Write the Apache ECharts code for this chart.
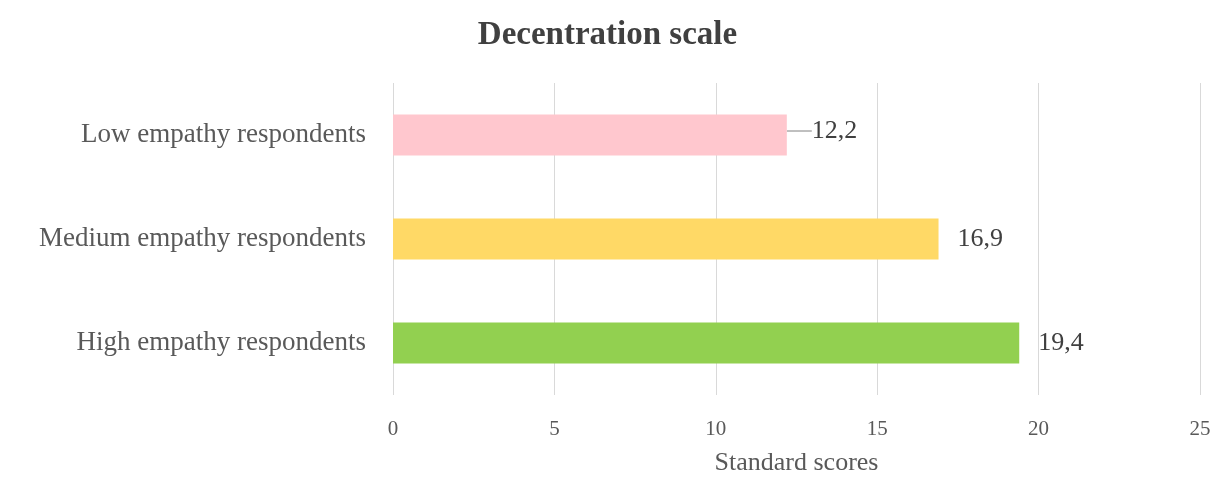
<!DOCTYPE html>
<html><head><meta charset="utf-8">
<script src="https://cdn.jsdelivr.net/npm/echarts@6/dist/echarts.min.js"></script>
<style>html,body{margin:0;padding:0;background:#fff}#c{width:1215px;height:478px}</style>
</head><body><div id="c"></div>
<script>
const categories = ['Low empathy respondents', 'Medium empathy respondents', 'High empathy respondents'];
const values = [12.2, 16.9, 19.4];
const barColors = ['#FFC7CE', '#FFD966', '#92D050'];
const xTicks = [0, 5, 10, 15, 20, 25];

const chart = echarts.init(document.getElementById('c'));
const font = 'Liberation Serif, Times New Roman, serif';
chart.setOption({
  animation: false,
  title: {
    text: 'Decentration scale', left: 'center', top: 14,
    textStyle: {fontFamily: font, fontSize: 33, fontWeight: 'bold', color: '#404040'}
  },
  grid: {left: 393, right: 15, top: 83, bottom: 83, outerBoundsMode: 'none', containLabel: false},
  xAxis: {
    type: 'value', min: xTicks[0], max: xTicks[xTicks.length - 1], interval: 5,
    name: 'Standard scores', nameLocation: 'middle', nameGap: 55,
    nameTextStyle: {fontFamily: font, fontSize: 26, color: '#595959'},
    axisLabel: {fontFamily: font, fontSize: 21, color: '#595959', margin: 24},
    axisLine: {show: false}, axisTick: {show: false},
    splitLine: {lineStyle: {color: '#d9d9d9', width: 1}}
  },
  yAxis: {
    type: 'category', data: categories, inverse: true,
    axisLabel: {fontFamily: font, fontSize: 27, color: '#595959', margin: 27},
    axisLine: {show: false}, axisTick: {show: false}
  },
  series: [{
    type: 'bar', barWidth: 41,
    data: values.map((v, i) => ({
      value: v,
      itemStyle: {color: barColors[i]},
      labelLine: {show: i === 0, length2: 0, lineStyle: {color: '#808080', width: 1}}
    })),
    label: {
      show: true, position: 'right', distance: 19,
      fontFamily: font, fontSize: 26, color: '#404040',
      formatter: p => String(p.value).replace('.', ',')
    },
    labelLayout: p => p.dataIndex === 0 ? {dx: 6, dy: -4} : {}
  }]
});
</script></body></html>
